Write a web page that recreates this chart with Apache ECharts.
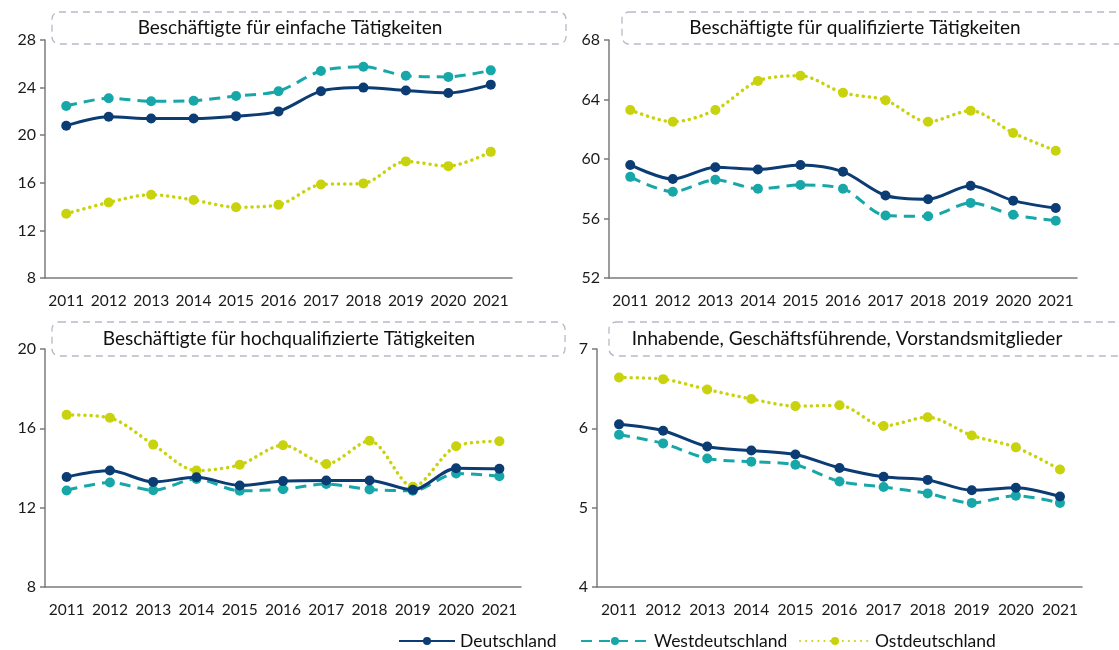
<!DOCTYPE html>
<html>
<head>
<meta charset="utf-8">
<script src="https://cdn.jsdelivr.net/npm/echarts@6/dist/echarts.min.js"></script>
<style>
  html, body { margin: 0; padding: 0; background: #fff; }
  #chart { width: 1119px; height: 650px; }
</style>
</head>
<body>
<div id="chart"></div>
<script>
const years = ['2011', '2012', '2013', '2014', '2015', '2016', '2017', '2018', '2019', '2020', '2021'];

// Beschäftigte für einfache Tätigkeiten
const einfachD = [20.8, 21.55, 21.4, 21.4, 21.6, 22.0, 23.7, 24.0, 23.75, 23.55, 24.25];
const einfachW = [22.45, 23.1, 22.85, 22.9, 23.3, 23.7, 25.4, 25.75, 25.0, 24.9, 25.45];
const einfachO = [13.4, 14.35, 15.0, 14.55, 13.95, 14.15, 15.85, 15.95, 17.8, 17.4, 18.6];

// Beschäftigte für qualifizierte Tätigkeiten
const qualiD = [59.6, 58.65, 59.45, 59.3, 59.6, 59.15, 57.55, 57.3, 58.2, 57.2, 56.7];
const qualiW = [58.8, 57.8, 58.6, 58.0, 58.25, 58.0, 56.2, 56.15, 57.05, 56.25, 55.85];
const qualiO = [63.3, 62.5, 63.3, 65.25, 65.6, 64.45, 63.95, 62.5, 63.25, 61.75, 60.55];

// Beschäftigte für hochqualifizierte Tätigkeiten
const hochD = [13.55, 13.87, 13.3, 13.53, 13.12, 13.34, 13.37, 13.37, 12.9, 13.99, 13.96];
const hochW = [12.87, 13.27, 12.88, 13.45, 12.85, 12.93, 13.19, 12.92, 12.85, 13.72, 13.59];
const hochO = [16.68, 16.53, 15.18, 13.87, 14.16, 15.15, 14.2, 15.37, 13.05, 15.1, 15.35];

// Inhabende, Geschäftsführende, Vorstandsmitglieder
const inhD = [6.05, 5.97, 5.77, 5.72, 5.67, 5.50, 5.39, 5.35, 5.22, 5.25, 5.14];
const inhW = [5.92, 5.81, 5.62, 5.58, 5.54, 5.33, 5.26, 5.18, 5.06, 5.15, 5.06];
const inhO = [6.64, 6.62, 6.49, 6.37, 6.28, 6.29, 6.03, 6.14, 5.91, 5.76, 5.48];

const titles = [
  'Beschäftigte für einfache Tätigkeiten',
  'Beschäftigte für qualifizierte Tätigkeiten',
  'Beschäftigte für hochqualifizierte Tätigkeiten',
  'Inhabende, Geschäftsführende, Vorstandsmitglieder'
];
const yRanges = [[8, 28, 4], [52, 68, 4], [8, 20, 4], [4, 7, 1]];
const panelData = [
  [einfachD, einfachW, einfachO],
  [qualiD, qualiW, qualiO],
  [hochD, hochW, hochO],
  [inhD, inhW, inhO]
];
const seriesNames = ['Deutschland', 'Westdeutschland', 'Ostdeutschland'];

const FONT = 'Lato, "Noto Sans", sans-serif';
const colors = ['#0c3c74', '#18a7a9', '#c8d30e'];
const lineTypes = ['solid', [11, 7], [0.1, 6]];

const grids = [
  { left: 45, top: 40, width: 467, height: 238 },
  { left: 609, top: 40, width: 468, height: 238 },
  { left: 45, top: 349, width: 476, height: 238 },
  { left: 597, top: 349, width: 485, height: 238 }
];
const boxes = [
  { x: 52, y: 12, w: 514, h: 32, tx: 290, ty: 28 },
  { x: 622, y: 12, w: 510, h: 32, tx: 855, ty: 28 },
  { x: 52, y: 322, w: 513, h: 34, tx: 289, ty: 339 },
  { x: 609, y: 322, w: 520, h: 34, tx: 847, ty: 339 }
];

const chart = echarts.init(document.getElementById('chart'));

const xAxes = grids.map((g, i) => ({
  type: 'category',
  gridIndex: i,
  data: years,
  boundaryGap: true,
  axisLine: { lineStyle: { color: '#7b7b7b', width: 1.5 } },
  axisTick: { show: false },
  axisLabel: { color: '#1a1a1a', fontSize: 15.5, fontFamily: FONT, margin: 15, interval: 0 }
}));

const yAxes = grids.map((g, i) => ({
  type: 'value',
  gridIndex: i,
  min: yRanges[i][0],
  max: yRanges[i][1],
  interval: yRanges[i][2],
  splitLine: { show: false },
  axisLine: { show: true, lineStyle: { color: '#7b7b7b', width: 1.5 } },
  axisTick: { show: true, length: 5, lineStyle: { color: '#7b7b7b', width: 1.5 } },
  axisLabel: { color: '#1a1a1a', fontSize: 16, fontFamily: FONT, margin: 9 }
}));

const series = [];
panelData.forEach((group, i) => {
  group.forEach((vals, k) => {
    series.push({
      name: seriesNames[k],
      type: 'line',
      xAxisIndex: i,
      yAxisIndex: i,
      data: vals,
      smooth: 0.3,
      symbol: 'circle',
      symbolSize: 10,
      z: 5 - k,
      itemStyle: { color: colors[k] },
      lineStyle: {
        color: colors[k],
        width: k === 2 ? 3.5 : 3,
        type: lineTypes[k],
        cap: k === 2 ? 'round' : 'butt'
      }
    });
  });
});

const graphics = [];
boxes.forEach((b, i) => {
  graphics.push({
    type: 'rect',
    shape: { x: b.x, y: b.y, width: b.w, height: b.h, r: 7 },
    style: { fill: 'none', stroke: '#b7bbc7', lineWidth: 1.3, lineDash: [7, 5] },
    silent: true
  });
  graphics.push({
    type: 'text',
    x: b.tx,
    y: b.ty,
    style: {
      text: titles[i],
      fill: '#111',
      font: '19px ' + FONT,
      align: 'center',
      verticalAlign: 'middle',
      textAlign: 'center',
      textVerticalAlign: 'middle'
    },
    silent: true
  });
});

const legendBase = {
  top: 632,
  padding: 0,
  itemHeight: 10,
  itemGap: 0,
  textStyle: { color: '#111', fontSize: 17.5, fontFamily: FONT },
  selectedMode: false
};

chart.setOption({
  animation: false,
  grid: grids,
  xAxis: xAxes,
  yAxis: yAxes,
  legend: [
    Object.assign({}, legendBase, { left: 398, itemWidth: 56, data: ['Deutschland'] }),
    Object.assign({}, legendBase, { left: 580, itemWidth: 68, data: ['Westdeutschland'] }),
    Object.assign({}, legendBase, { left: 799, itemWidth: 70, data: ['Ostdeutschland'] })
  ],
  graphic: graphics,
  series: series
});

window.addEventListener('resize', () => chart.resize());
</script>
</body>
</html>
